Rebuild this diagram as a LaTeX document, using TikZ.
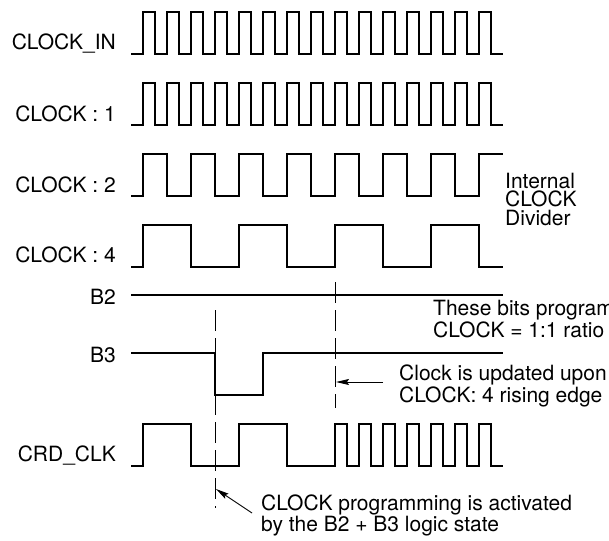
\documentclass[tikz,border=0pt]{standalone}
\usepackage{fontspec}
\setmainfont{TeX Gyre Heros}
\usetikzlibrary{arrows.meta}

\tikzset{
  wave/.style={line width=1.6pt, line join=miter},
  marker/.style={dash pattern=on 21pt off 7pt, line width=0.9pt},
  signame/.style={anchor=base east, inner sep=0pt},
  note/.style={anchor=base west, inner sep=0pt, align=left},
  pointer/.style={line width=0.9pt, -{Stealth[length=13pt,width=6pt,inset=2pt]}},
}

\begin{document}
\begin{tikzpicture}[x=1pt, y=-1pt, font=\fontsize{21}{18.5}\selectfont]
      \clip (0,0) rectangle (609,540);

      % signal names
      \node[signame] (clkin) at (116,50)  {CLOCK\_IN};
      \node[signame] (clk1)  at (116,122) {CLOCK : 1};
      \node[signame] (clk2)  at (116,192) {CLOCK : 2};
      \node[signame] (clk4)  at (116,262) {CLOCK : 4};
      \node[signame] (bb2)   at (116,304) {B2};
      \node[signame] (bb3)   at (116,362) {B3};
      \node[signame] (crd)   at (116,461) {CRD\_CLK};

      % waveforms
      \draw[wave] (131,54) -- (143,54)
            \foreach \i in {1,...,15} { -- ++(0,-42) -- ++(12,0) -- ++(0,42) -- ++(12,0) };
      \draw[wave] (131,125) -- (143,125)
            \foreach \i in {1,...,15} { -- ++(0,-42) -- ++(12,0) -- ++(0,42) -- ++(12,0) };
      \draw[wave] (131,196) -- (143,196)
            \foreach \i in {1,...,7} { -- ++(0,-42) -- ++(24,0) -- ++(0,42) -- ++(24,0) }
            -- ++(0,-42) -- ++(24,0);
      \draw[wave] (131,267) -- (143,267)
            \foreach \i in {1,...,3} { -- ++(0,-42) -- ++(48,0) -- ++(0,42) -- ++(48,0) }
            -- ++(0,-42) -- ++(48,0) -- ++(0,42) -- ++(24,0);
      \draw[wave] (131,295) -- (503,295);
      \draw[wave] (131,353) -- (215,353) -- (215,395) -- (263,395) -- (263,353) -- (503,353);
      \draw[wave] (131,466) -- (143,466)
            \foreach \i in {1,2} { -- ++(0,-42) -- ++(48,0) -- ++(0,42) -- ++(48,0) }
            \foreach \i in {1,...,7} { -- ++(0,-42) -- ++(12,0) -- ++(0,42) -- ++(12,0) };

      % markers
      \coordinate (act top) at (215,310);
      \coordinate (act bot) at (215,508);
      \coordinate (upd top) at (335,282);
      \coordinate (upd bot) at (335,408);
      \draw[marker] (act top) -- (act bot);
      \draw[marker] (upd top) -- (upd bot);

      % notes (base = last line)
      \node[note] (divider) at (505,225) {Internal\\CLOCK\\Divider};
      \node[note] (ratio)   at (433,337) {These bits program\\CLOCK = 1:1 ratio};
      \node[note] (update)  at (399,402) {Clock is updated upon\\CLOCK: 4 rising edge};
      \node[note] (active)  at (261,531) {CLOCK programming is activated\\by the B2 + B3 logic state};

      \coordinate (upd tail) at (383,382);
      \coordinate (upd head) at (336,382);
      \coordinate (act tail) at (252,513);
      \coordinate (act head) at (216,489);
      \draw[pointer] (upd tail) -- (upd head);
      \draw[pointer] (act tail) -- (act head);
\end{tikzpicture}
\end{document}
